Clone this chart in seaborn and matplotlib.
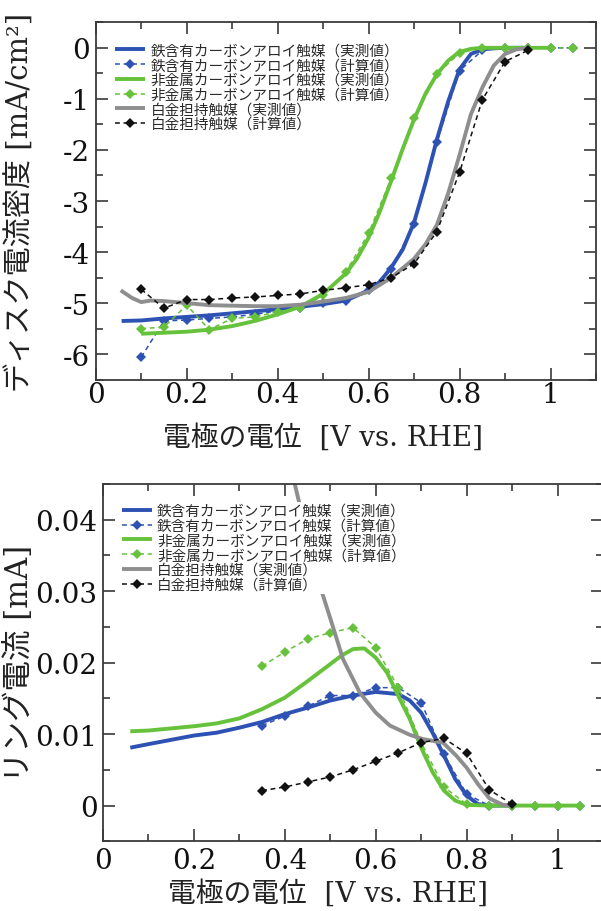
import numpy as np
import pandas as pd
import matplotlib
matplotlib.use("Agg")
import matplotlib.pyplot as plt
import seaborn as sns
from matplotlib.ticker import MultipleLocator, FixedLocator, FixedFormatter
from matplotlib.font_manager import FontProperties

# ---------------- data: top panel (disk current density, mA/cm2) ----------------
v_fe_meas_top = [0.057, 0.1, 0.15, 0.2, 0.25, 0.3, 0.35, 0.4, 0.45, 0.5, 0.55, 0.6, 0.625, 0.65,
                 0.675, 0.7, 0.725, 0.75, 0.775, 0.8, 0.825, 0.85, 0.875, 0.9, 0.95]
j_fe_meas_top = [-5.35, -5.34, -5.3, -5.27, -5.24, -5.2, -5.16, -5.12, -5.07, -5.02, -4.95, -4.75, -4.58, -4.3,
                 -3.95, -3.42, -2.65, -1.8, -1.05, -0.42, -0.12, -0.03, -0.01, 0.0, 0.0]

v_calc_top = [0.1, 0.15, 0.2, 0.25, 0.3, 0.35, 0.4, 0.45, 0.5, 0.55, 0.6, 0.65, 0.7, 0.75,
              0.8, 0.85, 0.9, 0.95, 1.0, 1.05]
j_fe_calc_top = [-6.06, -5.35, -5.33, -5.3, -5.27, -5.22, -5.15, -5.1, -5.0, -4.95, -4.75, -4.33, -3.45, -1.85,
                 -0.45, -0.05, 0.0, 0.0, 0.0, 0.0]

v_nm_meas_top = [0.1, 0.15, 0.2, 0.25, 0.3, 0.35, 0.4, 0.45, 0.5, 0.55, 0.575, 0.6, 0.625, 0.65,
                 0.675, 0.7, 0.725, 0.75, 0.775, 0.8, 0.825, 0.85, 0.9, 1.0]
j_nm_meas_top = [-5.6, -5.58, -5.56, -5.52, -5.45, -5.35, -5.22, -5.07, -4.82, -4.42, -4.12, -3.72, -3.2, -2.6,
                 -1.98, -1.4, -0.9, -0.52, -0.25, -0.08, -0.02, 0.0, 0.0, 0.0]

j_nm_calc_top = [-5.5, -5.47, -5.04, -5.52, -5.3, -5.27, -5.17, -5.1, -4.85, -4.39, -3.63, -2.55, -1.38, -0.52,
                 -0.1, 0.0, 0.0, 0.0, 0.0, 0.0]

v_pt_meas_top = [0.055, 0.08, 0.1, 0.12, 0.15, 0.2, 0.25, 0.3, 0.35, 0.4, 0.45, 0.5, 0.55, 0.6, 0.65,
                 0.7, 0.725, 0.75, 0.775, 0.8, 0.825, 0.85, 0.875, 0.9, 0.925, 0.95]
j_pt_meas_top = [-4.75, -4.9, -4.98, -4.95, -4.96, -5.0, -5.04, -5.05, -5.06, -5.06, -5.03, -4.97, -4.9, -4.78,
                 -4.5, -4.13, -3.85, -3.47, -2.85, -2.1, -1.3, -0.78, -0.35, -0.12, -0.03, 0.0]

v_pt_calc_top = [0.1, 0.15, 0.2, 0.25, 0.3, 0.35, 0.4, 0.45, 0.5, 0.55, 0.6, 0.65, 0.7, 0.75,
                 0.8, 0.85, 0.9, 0.95]
j_pt_calc_top = [-4.73, -5.1, -4.93, -4.93, -4.9, -4.88, -4.85, -4.82, -4.75, -4.7, -4.64, -4.5, -4.23, -3.6,
                 -2.44, -1.02, -0.27, -0.05]

# ---------------- data: bottom panel (ring current, mA) ----------------
v_fe_meas_bot = [0.06, 0.1, 0.15, 0.2, 0.25, 0.3, 0.35, 0.4, 0.45, 0.5, 0.55, 0.6, 0.65, 0.675,
                 0.7, 0.725, 0.75, 0.775, 0.8, 0.825, 0.85, 0.9]
i_fe_meas_bot = [0.0081, 0.0086, 0.0092, 0.0098, 0.0102, 0.0109, 0.0117, 0.0128, 0.0137, 0.0147, 0.0154,
                 0.0159, 0.0156, 0.0147, 0.013, 0.0102, 0.007, 0.0037, 0.0014, 0.0002, 0.0, 0.0]

v_calc_bot = [0.35, 0.4, 0.45, 0.5, 0.55, 0.6, 0.65, 0.7, 0.75, 0.8, 0.85, 0.9, 0.95, 1.0, 1.05]
i_fe_calc_bot = [0.0112, 0.0125, 0.0139, 0.0154, 0.0154, 0.0165, 0.0165, 0.0144, 0.0072, 0.0016,
                 0.0, 0.0, 0.0, 0.0, 0.0]

v_nm_meas_bot = [0.06, 0.1, 0.15, 0.2, 0.25, 0.3, 0.35, 0.4, 0.45, 0.5, 0.525, 0.55, 0.575, 0.6,
                 0.625, 0.65, 0.675, 0.7, 0.725, 0.75, 0.775, 0.8, 0.85, 0.9, 1.0, 1.05]
i_nm_meas_bot = [0.0104, 0.0105, 0.0108, 0.0111, 0.0115, 0.0122, 0.0135, 0.0151, 0.0174, 0.0198, 0.021,
                 0.0219, 0.022, 0.0207, 0.0186, 0.0153, 0.0121, 0.0081, 0.0047, 0.0021, 0.0007, 0.0001,
                 0.0, 0.0, 0.0, 0.0]

i_nm_calc_bot = [0.0195, 0.0215, 0.0233, 0.0242, 0.0249, 0.0221, 0.0165, 0.0088, 0.0026, 0.0002,
                 -0.0001, -0.0001, -0.0001, -0.0001, -0.0001]

v_pt_meas_bot = [0.40, 0.42, 0.432, 0.45, 0.4835, 0.5, 0.528, 0.565, 0.6, 0.631, 0.675, 0.704, 0.748,
                 0.777, 0.8, 0.825, 0.85, 0.88, 0.9]
i_pt_meas_bot = [0.052, 0.0455, 0.0423, 0.0375, 0.0295, 0.0262, 0.0205, 0.0158, 0.013, 0.0112, 0.0099,
                 0.0093, 0.0088, 0.007, 0.0053, 0.003, 0.001, 0.0001, 0.0]

v_pt_calc_bot = [0.35, 0.4, 0.45, 0.5, 0.55, 0.6, 0.65, 0.7, 0.75, 0.8, 0.85, 0.9]
i_pt_calc_bot = [0.0021, 0.0026, 0.0033, 0.004, 0.005, 0.0062, 0.0074, 0.0088, 0.0094, 0.0073, 0.0022, 0.0002]

labels = ["鉄含有カーボンアロイ触媒（実測値）", "鉄含有カーボンアロイ触媒（計算値）",
          "非金属カーボンアロイ触媒（実測値）", "非金属カーボンアロイ触媒（計算値）",
          "白金担持触媒（実測値）", "白金担持触媒（計算値）"]

x_ticks = [0, 0.2, 0.4, 0.6, 0.8, 1.0]
x_ticklabels = ["0", "0.2", "0.4", "0.6", "0.8", "1"]
y_ticks_top = [0, -1, -2, -3, -4, -5, -6]
y_ticklabels_top = ["0", "-1", "-2", "-3", "-4", "-5", "-6"]
y_ticks_bot = [0, 0.01, 0.02, 0.03, 0.04]
y_ticklabels_bot = ["0", "0.01", "0.02", "0.03", "0.04"]

xlabel = "電極の電位  [V vs. RHE]"
ylabel_top = "ディスク電流密度 [mA/cm²]"
ylabel_bot = "リング電流 [mA]"

# ---------------- style ----------------
sns.set_style("ticks")
plt.rcParams["font.family"] = ["DejaVu Serif", "Noto Sans CJK JP"]
plt.rcParams["axes.unicode_minus"] = False

BLUE = "#2d52b3"
GREEN = "#66c23a"
GRAY = "#8e8e8e"
BLACK = "#111111"
SPINE = "#3a3a3a"

fig = plt.figure(figsize=(6.01, 9.12), dpi=100)
ax1 = fig.add_axes([95.7 / 601, 1 - 380.7 / 912, 500.3 / 601, 357.4 / 912])
ax2 = fig.add_axes([103.0 / 601, 1 - 842.3 / 912, 500.0 / 601, 357.3 / 912])


def meas(ax, x, y, color, label):
    sns.lineplot(x=x, y=y, ax=ax, color=color, lw=2.8, sort=False, estimator=None,
                 label=label, solid_capstyle="butt")


def calc(ax, x, y, color, label):
    sns.lineplot(x=x, y=y, ax=ax, color=color, lw=1.1, linestyle=(0, (3.2, 2.4)),
                 marker="D", markersize=5.5, markeredgewidth=0, markerfacecolor=color,
                 sort=False, estimator=None, label=label)


# top panel
meas(ax1, v_fe_meas_top, j_fe_meas_top, BLUE, labels[0])
calc(ax1, v_calc_top, j_fe_calc_top, BLUE, labels[1])
meas(ax1, v_nm_meas_top, j_nm_meas_top, GREEN, labels[2])
calc(ax1, v_calc_top, j_nm_calc_top, GREEN, labels[3])
meas(ax1, v_pt_meas_top, j_pt_meas_top, GRAY, labels[4])
calc(ax1, v_pt_calc_top, j_pt_calc_top, BLACK, labels[5])

# bottom panel
meas(ax2, v_fe_meas_bot, i_fe_meas_bot, BLUE, labels[0])
calc(ax2, v_calc_bot, i_fe_calc_bot, BLUE, labels[1])
meas(ax2, v_nm_meas_bot, i_nm_meas_bot, GREEN, labels[2])
calc(ax2, v_calc_bot, i_nm_calc_bot, GREEN, labels[3])
meas(ax2, v_pt_meas_bot, i_pt_meas_bot, GRAY, labels[4])
calc(ax2, v_pt_calc_bot, i_pt_calc_bot, BLACK, labels[5])

ax1.set_xlim(0, 1.1)
ax1.set_ylim(-6.5, 0.5)
ax2.set_xlim(0, 1.1)
ax2.set_ylim(-0.005, 0.045)

for ax, yt, ytl, ymin in [(ax1, y_ticks_top, y_ticklabels_top, 0.5),
                          (ax2, y_ticks_bot, y_ticklabels_bot, 0.005)]:
    ax.xaxis.set_major_locator(FixedLocator(x_ticks))
    ax.xaxis.set_major_formatter(FixedFormatter(x_ticklabels))
    ax.xaxis.set_minor_locator(MultipleLocator(0.1))
    ax.yaxis.set_major_locator(FixedLocator(yt))
    ax.yaxis.set_major_formatter(FixedFormatter(ytl))
    ax.yaxis.set_minor_locator(MultipleLocator(ymin))
    ax.tick_params(which="both", direction="in", top=True, right=True, width=1.2,
                   color=SPINE, labelsize=20, labelcolor="#111111", pad=4)
    ax.tick_params(which="major", length=8.5)
    ax.tick_params(which="minor", length=5)
    for s in ax.spines.values():
        s.set_linewidth(1.3)
        s.set_color(SPINE)
        s.set_visible(True)
    ax.set_xlabel(xlabel, fontsize=20, color="#222222")

ax1.tick_params(axis="x", which="both", pad=1)
ax2.tick_params(axis="x", which="both", pad=4)

ax1.set_ylabel(ylabel_top, fontsize=21, color="#222222")
ax2.set_ylabel(ylabel_bot, fontsize=22, color="#222222")
ax1.yaxis.set_label_coords(-0.121, 0.5)
ax2.yaxis.set_label_coords(-0.136, 0.5)
ax1.xaxis.set_label_coords(0.455, -0.121)
ax2.xaxis.set_label_coords(0.45, -0.105)

legprop = FontProperties(family=["Noto Sans CJK JP"], size=10.5)
for ax, anchor in [(ax1, (0.035, 0.947)), (ax2, (0.034, 0.950))]:
    leg = ax.legend(loc="upper left", bbox_to_anchor=anchor, prop=legprop, frameon=True,
                    framealpha=1.0, facecolor="white", edgecolor="none", fancybox=False,
                    borderpad=0.15, borderaxespad=0, labelspacing=0.05, handlelength=2.05,
                    handletextpad=0.35)
    for t in leg.get_texts():
        t.set_color("#2a2a2a")

fig.savefig("out.png", dpi=100)
